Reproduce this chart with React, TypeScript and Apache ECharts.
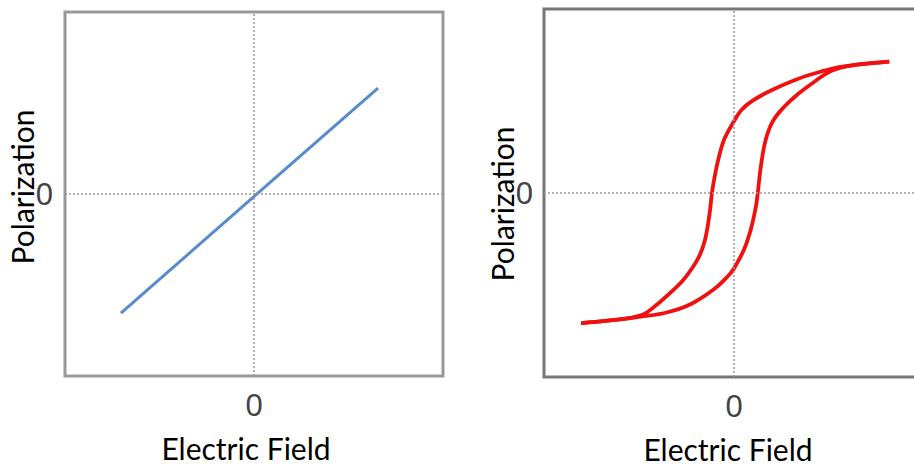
import React, { useEffect, useRef } from "react";
import * as echarts from "echarts";

// Left panel: linear dielectric (straight line)
const linearLine: number[][] = [
  [-0.704, -0.654],
  [0.656, 0.582],
];

// Right panel: ferroelectric hysteresis loop
const upperBranch: number[][] = [
  [0.817, 0.714], [0.738, 0.707], [0.563, 0.686], [0.475, 0.665], [0.335, 0.62],
  [0.2, 0.56], [0.1, 0.503], [0.04, 0.452], [0, 0.39], [-0.051, 0.293], [-0.082, 0.185],
  [-0.104, 0.076], [-0.116, 0], [-0.13, -0.123], [-0.156, -0.268], [-0.191, -0.359],
  [-0.262, -0.467], [-0.314, -0.522], [-0.402, -0.603], [-0.49, -0.665],
  [-0.665, -0.694], [-0.805, -0.707],
];
const lowerBranch: number[][] = [
  [-0.805, -0.707], [-0.665, -0.694], [-0.49, -0.672], [-0.349, -0.648],
  [-0.226, -0.603], [-0.104, -0.522], [-0.03, -0.45], [0, -0.41], [0.054, -0.304], [0.089, -0.196],
  [0.116, -0.069], [0.125, 0], [0.142, 0.149], [0.168, 0.293], [0.205, 0.391],
  [0.263, 0.467], [0.337, 0.538], [0.421, 0.603], [0.51, 0.663], [0.6, 0.69], [0.738, 0.707],
  [0.817, 0.714],
];

const tickValues = [0];
const xTitle = "Electric Field";
const yTitle = "Polarization";

export default function App() {
  const ref = useRef<HTMLDivElement>(null);
  useEffect(() => {
    if (!ref.current) return;
    const chart = echarts.init(ref.current, null, { renderer: "svg" });
    const titleFont = { fontFamily: "Lato", fontSize: 30, lineHeight: 30, color: "#000" };
    const labelStyle = {
      fontFamily: "Liberation Sans",
      fontSize: 31,
      color: "#444",
      customValues: tickValues,
      formatter: (v: number) => String(v),
    };
    const zeroLines = {
      silent: true,
      symbol: "none",
      label: { show: false },
      lineStyle: { color: "#999", type: [2, 2] as any, width: 1.5 },
      data: [{ xAxis: 0 }, { yAxis: 0 }],
    };
    const mkX = (gi: number, gap: number, pad: number[]) => ({
      type: "value",
      gridIndex: gi,
      min: -1,
      max: 1,
      axisLine: { show: false },
      axisTick: { show: false },
      splitLine: { show: false },
      axisLabel: { ...labelStyle, margin: 14 },
      name: xTitle,
      nameLocation: "middle",
      nameGap: gap,
      nameMoveOverlap: false,
      nameTextStyle: { ...titleFont, padding: pad },
    });
    const mkY = (gi: number, gap: number, pad: number[], margin: number) => ({
      type: "value",
      gridIndex: gi,
      min: -1,
      max: 1,
      axisLine: { show: false },
      axisTick: { show: false },
      splitLine: { show: false },
      axisLabel: { ...labelStyle, margin },
      name: yTitle,
      nameLocation: "middle",
      nameGap: gap,
      nameMoveOverlap: false,
      nameTextStyle: { ...titleFont, padding: pad },
    });
    chart.setOption({
      animation: false,
      backgroundColor: "#fff",
      grid: [
        { left: 65, top: 12, width: 378, height: 364, show: true, borderColor: "#999", borderWidth: 3, backgroundColor: "transparent", outerBoundsMode: "none", containLabel: false },
        { left: 544, top: 9, width: 380, height: 368, show: true, borderColor: "#777", borderWidth: 3, backgroundColor: "transparent", outerBoundsMode: "none", containLabel: false },
      ],
      xAxis: [mkX(0, 57, [0, 16, 0, 0]), mkX(1, 57, [0, 12, 0, 0])],
      yAxis: [mkY(0, 28, [0, 0, 0, 14], 12), mkY(1, 27, [0, 22, 0, 0], 11)],
      series: [
        {
          type: "line",
          xAxisIndex: 0,
          yAxisIndex: 0,
          data: linearLine,
          showSymbol: false,
          lineStyle: { color: "#5a8acb", width: 3 },
          markLine: zeroLines,
          z: 3,
        },
        {
          type: "line",
          xAxisIndex: 1,
          yAxisIndex: 1,
          data: upperBranch,
          smooth: 0.4,
          showSymbol: false,
          lineStyle: { color: "#f01010", width: 3.8 },
          markLine: zeroLines,
          z: 3,
        },
        {
          type: "line",
          xAxisIndex: 1,
          yAxisIndex: 1,
          data: lowerBranch,
          smooth: 0.4,
          showSymbol: false,
          lineStyle: { color: "#f01010", width: 3.8 },
          z: 3,
        },
      ],
    });
    return () => chart.dispose();
  }, []);
  return (
    <div
      ref={ref}
      style={{ position: "absolute", left: 0, top: 0, width: 914, height: 464 }}
    />
  );
}
